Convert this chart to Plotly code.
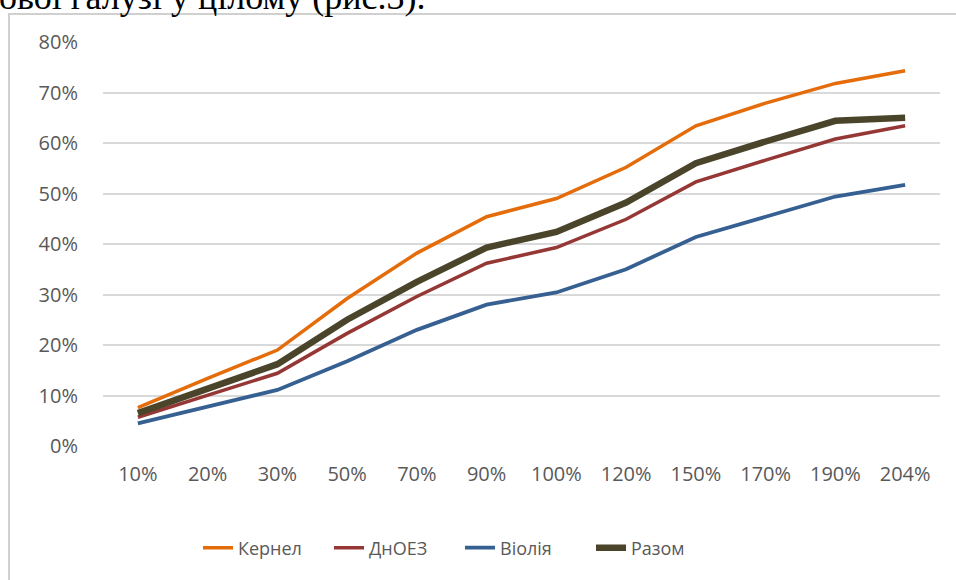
import plotly.graph_objects as go

categories = ["10%", "20%", "30%", "50%", "70%", "90%", "100%", "120%", "150%", "170%", "190%", "204%"]
kernel = [7.6, 13.4, 19.0, 29.2, 38.2, 45.4, 49.0, 55.2, 63.4, 67.9, 71.8, 74.3]
dnoez = [5.7, 10.0, 14.4, 22.3, 29.6, 36.2, 39.3, 44.9, 52.3, 56.6, 60.8, 63.4]
violia = [4.5, 7.8, 11.1, 16.8, 23.0, 28.0, 30.4, 35.0, 41.4, 45.4, 49.4, 51.7]
razom = [6.5, 11.5, 16.2, 25.0, 32.5, 39.3, 42.4, 48.2, 56.0, 60.3, 64.4, 65.0]

series = [
    ("Кернел", kernel, "#E46C0A", 3.5),
    ("ДнОЕЗ", dnoez, "#953735", 3.5),
    ("Віолія", violia, "#376092", 3.8),
    ("Разом", razom, "#4A452A", 6.5),
]

W, H = 956, 580
L, R, T, B = 103, 16, 42, 134
pw, ph = W - L - R, H - T - B

def px_x(p):
    return (p - L) / pw

def px_y(p):
    return (H - B - p) / ph

fig = go.Figure()
for name, vals, color, width in series:
    fig.add_trace(go.Scatter(
        x=categories, y=[v / 100 for v in vals], name=name, mode="lines",
        line=dict(color=color, width=width),
    ))

font_main = "Open Sans"
fig.update_layout(
    width=W, height=H,
    margin=dict(l=L, r=R, t=T, b=B, autoexpand=False),
    paper_bgcolor="white", plot_bgcolor="white",
    showlegend=True,
    legend=dict(orientation="h", x=px_x(198), xanchor="left", y=px_y(548), yanchor="middle",
                font=dict(family=font_main, size=18, color="#595959"),
                entrywidth=86, entrywidthmode="pixels", traceorder="normal"),
    xaxis=dict(type="category", range=[-0.5, len(categories) - 0.5],
               showgrid=False, zeroline=False, showline=False,
               ticks="outside", ticklen=10, tickcolor="rgba(0,0,0,0)",
               tickfont=dict(family=font_main, size=20, color="#595959")),
    yaxis=dict(range=[0, 0.8], dtick=0.1, tickformat=".0%", showgrid=True,
               gridcolor="#D9D9D9", gridwidth=1.5, zeroline=False, showline=False,
               ticks="outside", ticklen=20, tickcolor="rgba(0,0,0,0)",
               tickfont=dict(family=font_main, size=20, color="#595959")),
)

# cut-off body text above the chart
fig.add_annotation(text="ової галузі у цілому (рис.3).", xref="paper", yref="paper",
                   x=px_x(-2), y=px_y(18), xanchor="left", yanchor="bottom",
                   showarrow=False, bgcolor="rgba(0,0,0,0)", borderwidth=0,
                   font=dict(family="Liberation Serif", size=36, color="black"))

# chart area frame: left and top edges (the rest runs past the page)
fig.add_shape(type="line", xref="paper", yref="paper",
              x0=px_x(9), x1=px_x(9), y0=px_y(H + 20), y1=px_y(13),
              line=dict(color="#D0D0D0", width=2), layer="above")
fig.add_shape(type="line", xref="paper", yref="paper",
              x0=px_x(8), x1=px_x(W + 20), y0=px_y(14), y1=px_y(14),
              line=dict(color="#D0D0D0", width=2), layer="above")

fig.write_html("out.html", config={"displayModeBar": False},
               post_script="document.body.style.margin='0';")
